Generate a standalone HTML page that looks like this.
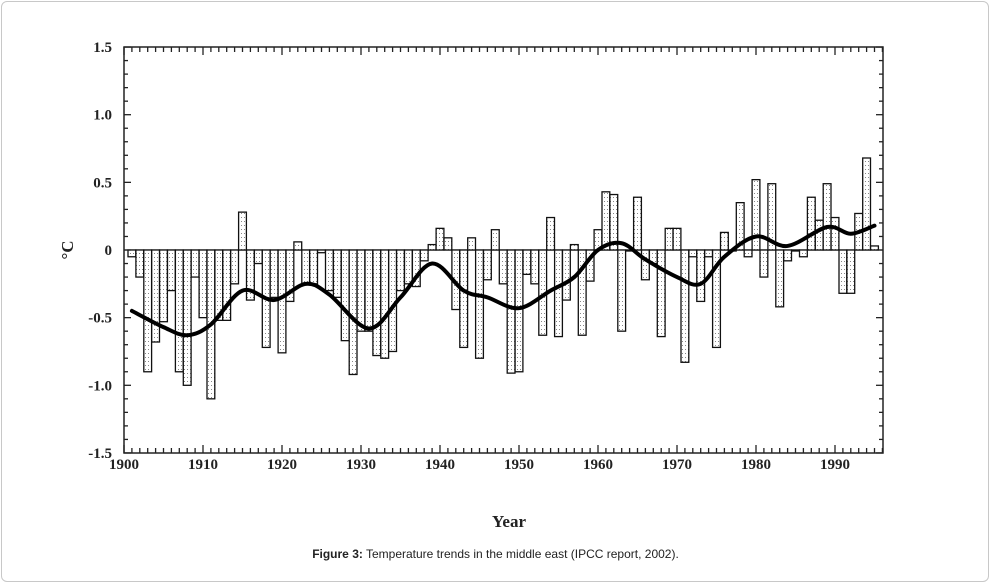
<!DOCTYPE html>
<html><head><meta charset="utf-8">
<style>
body{margin:0;background:#fff;}
#wrap{position:relative;width:991px;height:583px;overflow:hidden;}
#frame{position:absolute;left:1px;top:1px;width:986px;height:579px;border:1px solid #c8c8c8;border-radius:6px;}
#caption{position:absolute;left:0;width:991px;top:547px;text-align:center;font:12px "Liberation Sans",sans-serif;color:#222;}
</style></head>
<body>
<div id="wrap">
<div id="frame"></div>
<svg id="chart" width="991" height="583" style="position:absolute;left:0;top:0">
<defs><pattern id="dots" width="3" height="4" patternUnits="userSpaceOnUse"><rect width="3" height="4" fill="#fff"/><rect x="1" y="1" width="1" height="1" fill="#888"/></pattern></defs>
</svg>
<div id="caption"><b>Figure 3:</b> Temperature trends in the middle east (IPCC report, 2002).</div>
</div>
<script>
const years = [];
for (let y = 1901; y <= 1995; y++) years.push(y);
const anomalies = [-0.05,-0.2,-0.9,-0.68,-0.53,-0.3,-0.9,-1.0,-0.2,-0.5,
-1.1,-0.52,-0.52,-0.25,0.28,-0.37,-0.1,-0.72,-0.35,-0.76,
-0.38,0.06,-0.25,-0.25,-0.02,-0.3,-0.35,-0.67,-0.92,-0.6,
-0.6,-0.78,-0.8,-0.75,-0.3,-0.25,-0.27,-0.08,0.04,0.16,
0.09,-0.44,-0.72,0.09,-0.8,-0.22,0.15,-0.25,-0.91,-0.9,
-0.18,-0.25,-0.63,0.24,-0.64,-0.37,0.04,-0.63,-0.23,0.15,
0.43,0.41,-0.6,0.0,0.39,-0.22,-0.1,-0.64,0.16,0.16,
-0.83,-0.05,-0.38,-0.05,-0.72,0.13,0.0,0.35,-0.05,0.52,
-0.2,0.49,-0.42,-0.08,0.0,-0.05,0.39,0.22,0.49,0.24,
-0.32,-0.32,0.27,0.68,0.03];
const trendYears = [1901,1905,1908,1911,1915,1919,1923,1926,1931,1935,1939,1943,1946,1950,1954,1957,1960,1963,1966,1970,1973,1976,1980,1984,1989,1992,1995];
const trendValues = [-0.45,-0.57,-0.63,-0.55,-0.3,-0.37,-0.25,-0.33,-0.58,-0.35,-0.1,-0.3,-0.35,-0.43,-0.3,-0.2,0.0,0.05,-0.07,-0.2,-0.25,-0.05,0.1,0.03,0.17,0.12,0.18];
const yTicks = [-1.5,-1.0,-0.5,0,0.5,1.0,1.5];
const yTickLabels = ["-1.5","-1.0","-0.5","0","0.5","1.0","1.5"];
const xTicks = [1900,1910,1920,1930,1940,1950,1960,1970,1980,1990];

const L=124,R=883,T=47,B=453;
const xs = yr => L + (yr-1900)*7.9;
const ys = v => 250 - v*135.3;
const svg = document.getElementById('chart');
const NS='http://www.w3.org/2000/svg';
function mk(tag, attrs){const e=document.createElementNS(NS,tag);for(const k in attrs)e.setAttribute(k,attrs[k]);svg.appendChild(e);return e;}

const z = mk('line',{x1:L,x2:R,y1:ys(0),y2:ys(0),stroke:'#999','stroke-width':1.5});



years.forEach((yr,i)=>{
  const v=anomalies[i];
  const y0=ys(0), y1=ys(v);
  const r=mk('rect',{x:xs(yr)-3.9,width:7.8,y:Math.min(y0,y1),height:Math.max(1,Math.abs(y1-y0)),fill:'url(#dots)',stroke:'#111','stroke-width':1.3});
  
  
});

const pts = trendYears.map((yr,i)=>[xs(yr),ys(trendValues[i])]);
let d='M'+pts[0][0]+','+pts[0][1];
for(let i=0;i<pts.length-1;i++){
  const p0=pts[Math.max(0,i-1)],p1=pts[i],p2=pts[i+1],p3=pts[Math.min(pts.length-1,i+2)];
  const c1=[p1[0]+(p2[0]-p0[0])/6,p1[1]+(p2[1]-p0[1])/6];
  const c2=[p2[0]-(p3[0]-p1[0])/6,p2[1]-(p3[1]-p1[1])/6];
  d+=' C'+c1+' '+c2+' '+p2;
}
const tl=mk('path',{d:d,fill:'none',stroke:'#000','stroke-width':4,'stroke-linecap':'round'});



const fr=mk('rect',{x:L,y:T,width:R-L,height:B-T,fill:'none',stroke:'#222','stroke-width':1.5});



for(let k=-15;k<=15;k++){
  const v=k/10, y=ys(v), major=(k%5===0);
  const len=major?7:4;
  mk('line',{x1:L,x2:L+len,y1:y,y2:y,stroke:'#222','stroke-width':1.3});
  mk('line',{x1:R,x2:R-len,y1:y,y2:y,stroke:'#222','stroke-width':1.3});
}
yTicks.forEach((v,i)=>{
  const t=mk('text',{x:L-12,y:ys(v)+5,'text-anchor':'end','font-family':'Liberation Serif, serif','font-size':15,'font-weight':'bold',fill:'#222'});
  t.textContent=yTickLabels[i];
  
  
});
for(let yr=1900;yr<=1996;yr++){
  const x=xs(yr), major=(yr%10===0), len=major?8:5;
  mk('line',{x1:x,x2:x,y1:B,y2:B-len,stroke:'#222','stroke-width':1.3});
  mk('line',{x1:x,x2:x,y1:T,y2:T+len,stroke:'#222','stroke-width':1.3});
}
xTicks.forEach(yr=>{
  const t=mk('text',{x:xs(yr),y:B+16,'text-anchor':'middle','font-family':'Liberation Serif, serif','font-size':15,'font-weight':'bold',fill:'#222'});
  t.textContent=yr;
  
  
});
const xt=mk('text',{x:509,y:527,'text-anchor':'middle','font-family':'Liberation Serif, serif','font-size':17,'font-weight':'bold',fill:'#222'});
xt.textContent='Year';


const yt=mk('text',{x:0,y:0,transform:'translate(73,250) rotate(-90)','text-anchor':'middle','font-family':'Liberation Serif, serif','font-size':17,'font-weight':'bold',fill:'#222'});
yt.textContent='°C';


</script>
</body></html>
